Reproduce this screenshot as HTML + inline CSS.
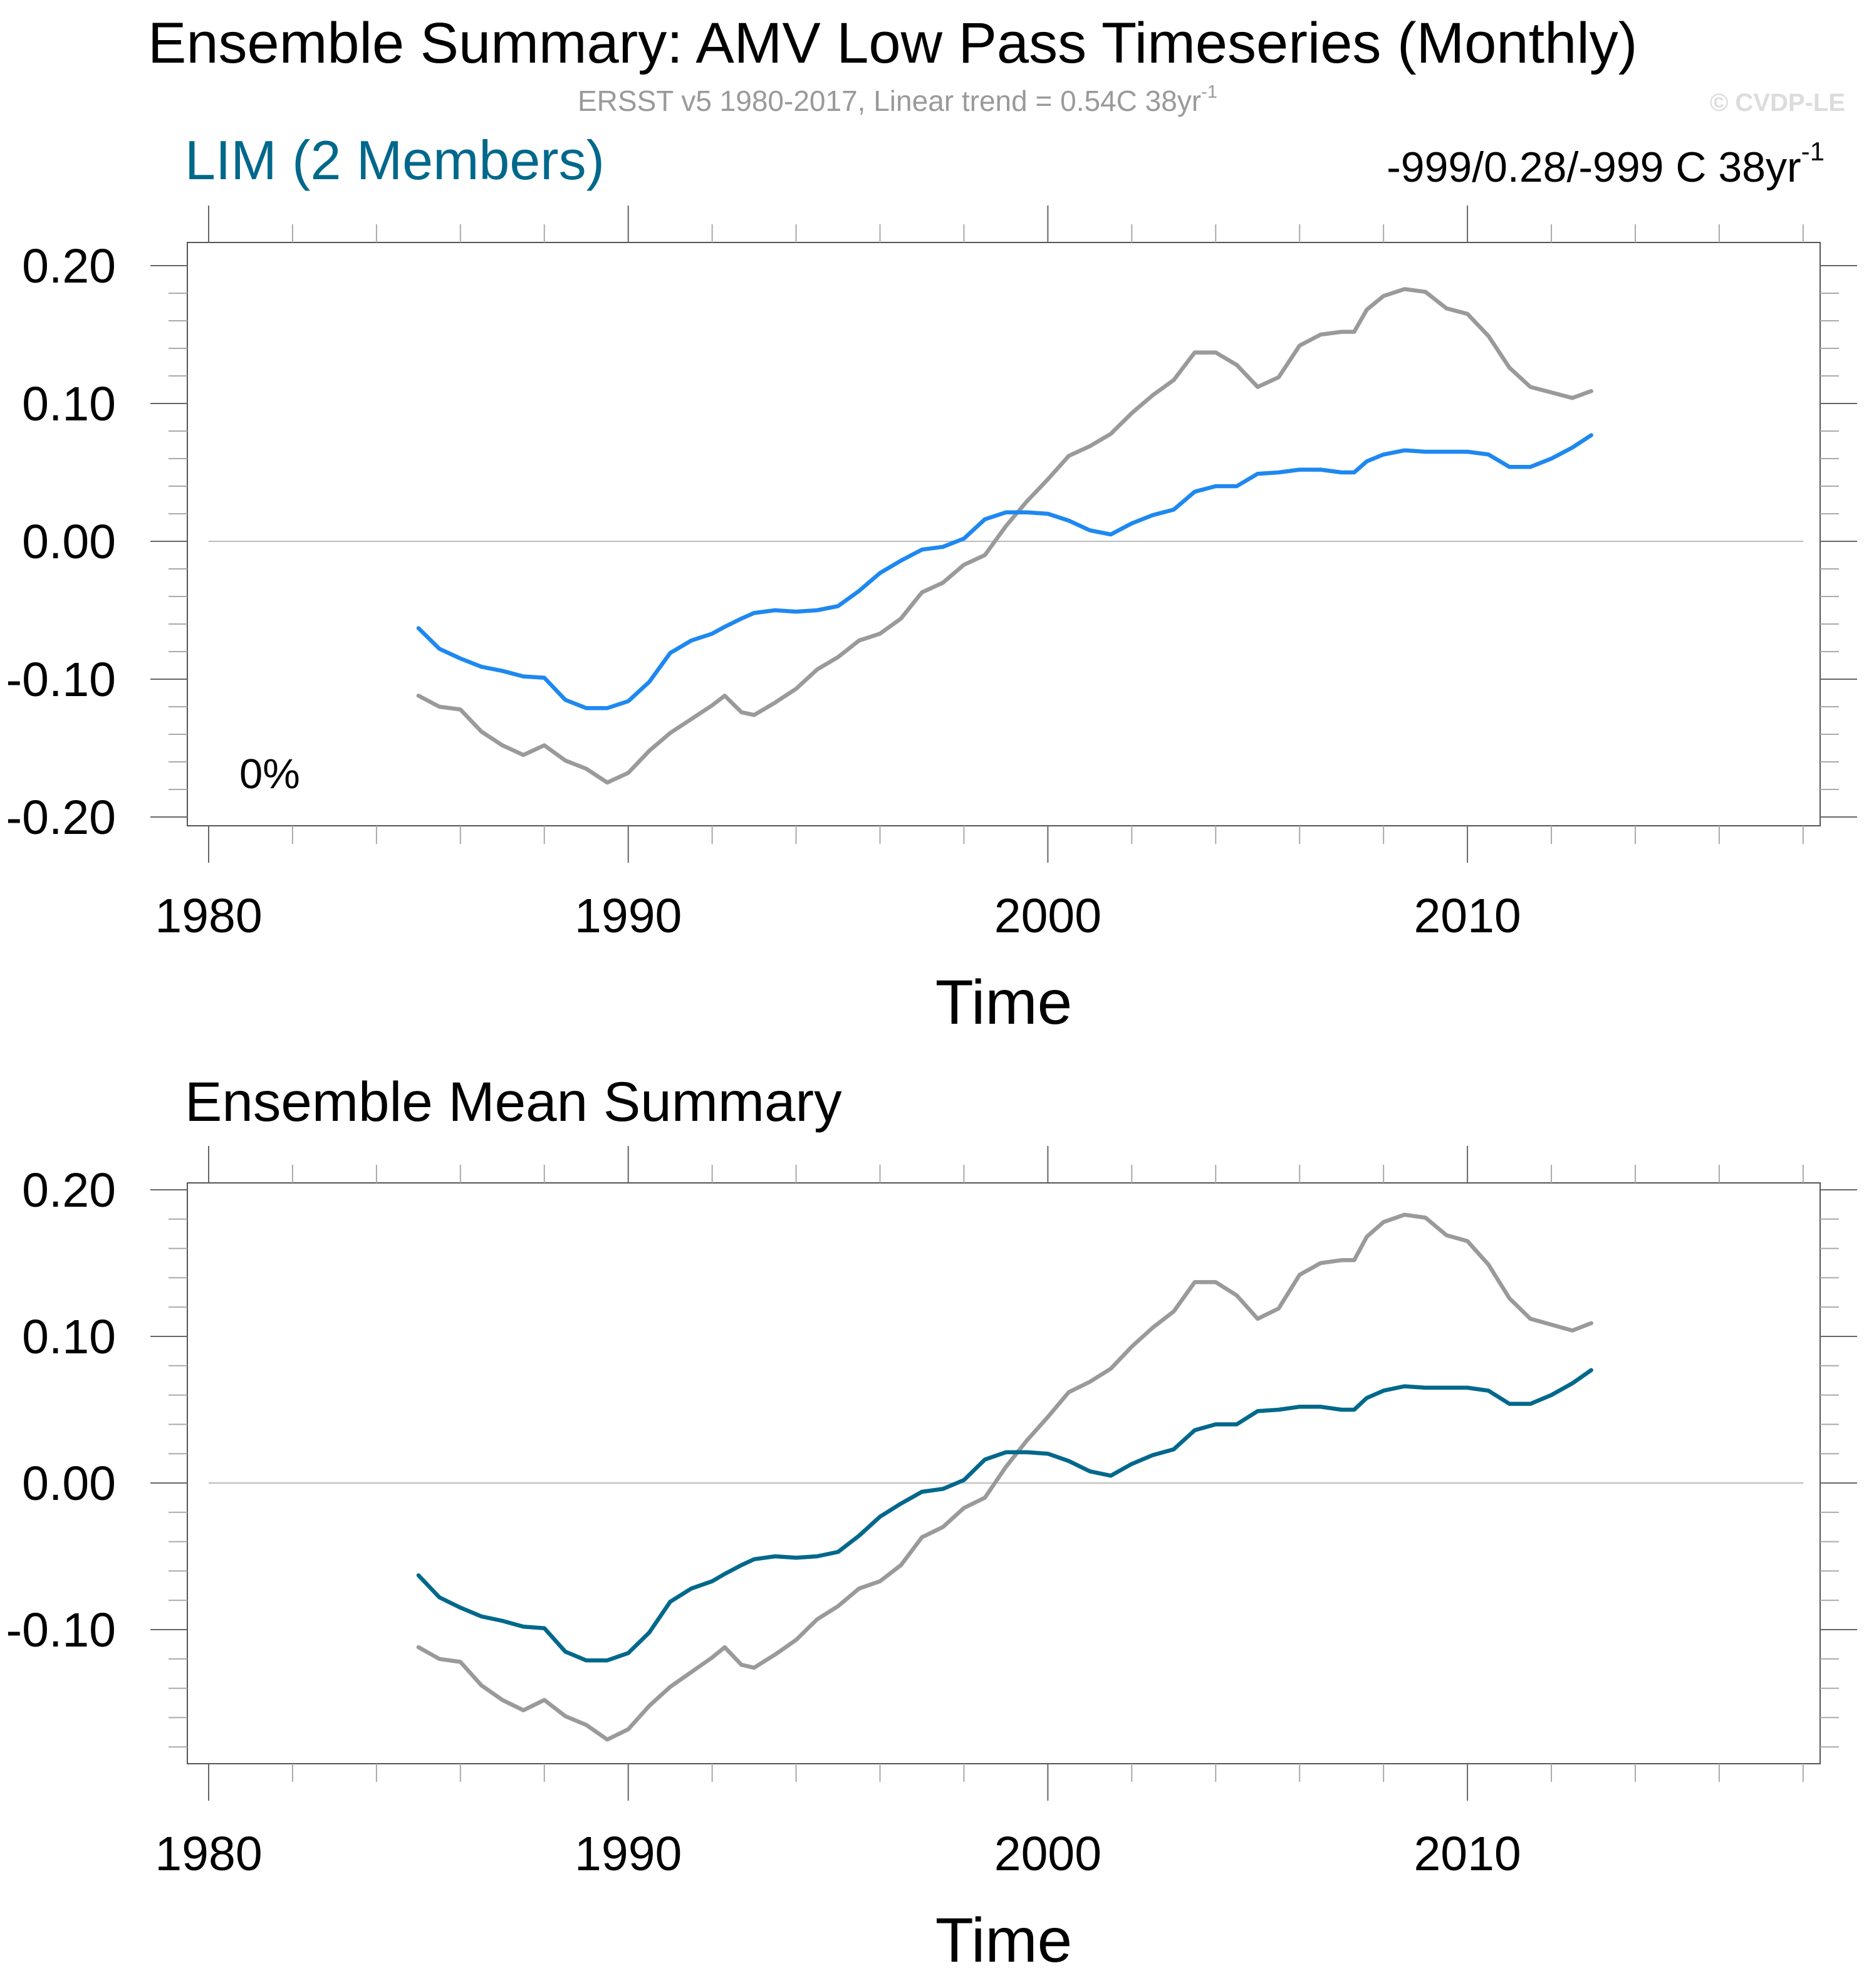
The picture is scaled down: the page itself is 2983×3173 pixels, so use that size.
<!DOCTYPE html>
<html><head><meta charset="utf-8"><style>
html,body{margin:0;padding:0;background:#fff;}
svg{display:block;font-family:"Liberation Sans",Arial,sans-serif;}
</style></head><body>
<svg id="chart" width="2983" height="3173" viewBox="0 0 2983 3173" xmlns="http://www.w3.org/2000/svg">
<rect x="0" y="0" width="2983" height="3173" fill="#fff"/>
<text x="236" y="100" font-size="92" fill="#000">Ensemble Summary: AMV Low Pass Timeseries (Monthly)</text>
<text x="922" y="177" font-size="46" fill="#9a9a9a">ERSST v5 1980-2017, Linear trend = 0.54C 38yr<tspan font-size="29" dy="-21">-1</tspan></text>
<text x="2945" y="177" font-size="40" font-weight="bold" fill="#dcdcdc" text-anchor="end">© CVDP-LE</text>
<text x="295" y="286" font-size="88" fill="#00688b">LIM (2 Members)</text>
<text x="2912" y="290" font-size="68" fill="#000" text-anchor="end">-999/0.28/-999 C 38yr<tspan font-size="42" dy="-34">-1</tspan></text>
<text x="295" y="1789" font-size="89" fill="#000">Ensemble Mean Summary</text>
<g id="p1"></g>
<g id="p2"></g>
</svg>
<script>
const years = [1985.0,1985.5,1986.0,1986.5,1987.0,1987.5,1988.0,1988.5,1989.0,1989.5,1990.0,1990.5,1991.0,1991.5,1992.0,1992.3,1992.7,1993.0,1993.5,1994.0,1994.5,1995.0,1995.5,1996.0,1996.5,1997.0,1997.5,1998.0,1998.5,1999.0,1999.5,2000.0,2000.5,2001.0,2001.5,2002.0,2002.5,2003.0,2003.5,2004.0,2004.5,2005.0,2005.5,2006.0,2006.5,2007.0,2007.3,2007.6,2008.0,2008.5,2009.0,2009.5,2010.0,2010.5,2011.0,2011.5,2012.0,2012.5,2012.95];
const obsValues = [-0.112,-0.12,-0.122,-0.138,-0.148,-0.155,-0.148,-0.159,-0.165,-0.175,-0.168,-0.152,-0.139,-0.129,-0.119,-0.112,-0.124,-0.126,-0.117,-0.107,-0.093,-0.084,-0.072,-0.067,-0.056,-0.037,-0.030,-0.017,-0.010,0.011,0.029,0.045,0.062,0.069,0.078,0.093,0.106,0.117,0.137,0.137,0.128,0.112,0.119,0.142,0.150,0.152,0.152,0.168,0.178,0.183,0.181,0.169,0.165,0.149,0.126,0.112,0.108,0.104,0.109];
const limValues = [-0.063,-0.078,-0.085,-0.091,-0.094,-0.098,-0.099,-0.115,-0.121,-0.121,-0.116,-0.102,-0.081,-0.072,-0.067,-0.062,-0.056,-0.052,-0.050,-0.051,-0.050,-0.047,-0.036,-0.023,-0.014,-0.006,-0.004,0.002,0.016,0.021,0.021,0.020,0.015,0.008,0.005,0.013,0.019,0.023,0.036,0.040,0.040,0.049,0.050,0.052,0.052,0.050,0.050,0.058,0.063,0.066,0.065,0.065,0.065,0.063,0.054,0.054,0.060,0.068,0.077];
const yTickLabels1 = ["0.20","0.10","0.00","-0.10","-0.20"];
const yTickValues1 = [0.2,0.1,0.0,-0.1,-0.2];
const yTickLabels2 = ["0.20","0.10","0.00","-0.10"];
const yTickValues2 = [0.2,0.1,0.0,-0.1];
const xTickLabels = ["1980","1990","2000","2010"];
const xTickValues = [1980,1990,2000,2010];

const NS="http://www.w3.org/2000/svg";
function mk(parent,tag,attrs){const e=document.createElementNS(NS,tag);for(const k in attrs)e.setAttribute(k,attrs[k]);parent.appendChild(e);return e;}

function panel(g,cfg){
  const L=299,R=2905,T=cfg.top,B=cfg.bottom;
  const xs=y=>333+(y-1980)*66.97;
  const ys=v=>cfg.zeroY-v*cfg.perUnit;
  const box=mk(g,'rect',{x:L,y:T,width:R-L,height:B-T,fill:'none',stroke:'#555','stroke-width':2});
  
  
  for(let k=-10;k<=10;k++){
    const v=k*0.02; const y=ys(v);
    if(y<T-1||y>B+1)continue;
    const major=(k%5===0);
    const len=major?59:30;
    const c=major?'#666':'#aaa';
    mk(g,'line',{x1:L-len,y1:y,x2:L,y2:y,stroke:c,'stroke-width':2});
    mk(g,'line',{x1:R,y1:y,x2:R+len,y2:y,stroke:c,'stroke-width':2});
  }
  cfg.yVals.forEach((v,i)=>{
    const t=mk(g,'text',{x:185,y:ys(v)+27,'font-size':77,'text-anchor':'end',fill:'#000'});
    t.textContent=cfg.yLabels[i];
    
    
  });
  for(let yr=1980;yr<=2018;yr+=2){
    const x=xs(yr); const major=(yr%10===0);
    const len=major?59:29; const c=major?'#666':'#aaa';
    mk(g,'line',{x1:x,y1:T-len,x2:x,y2:T,stroke:c,'stroke-width':2});
    mk(g,'line',{x1:x,y1:B,x2:x,y2:B+len,stroke:c,'stroke-width':2});
  }
  xTickValues.forEach((v,i)=>{
    const t=mk(g,'text',{x:xs(v),y:B+170,'font-size':77,'text-anchor':'middle',fill:'#000'});
    t.textContent=xTickLabels[i];
    
    
  });
  const xt=mk(g,'text',{x:(L+R)/2,y:B+316,'font-size':100,'text-anchor':'middle',fill:'#000'});
  xt.textContent='Time';
  
  
  const z=mk(g,'line',{x1:xs(1980),y1:ys(0),x2:xs(2018),y2:ys(0),stroke:'#bbb','stroke-width':2});
  
  
  const pts=a=>a.map((v,i)=>xs(years[i]).toFixed(1)+','+ys(v).toFixed(1)).join(' ');
  const o=mk(g,'polyline',{points:pts(obsValues),fill:'none',stroke:'#9a9a9a','stroke-width':6.5,'stroke-linejoin':'round','stroke-linecap':'round'});
  
  
  const m=mk(g,'polyline',{points:pts(limValues),fill:'none',stroke:cfg.color,'stroke-width':6.5,'stroke-linejoin':'round','stroke-linecap':'round'});
  
  
}
panel(document.getElementById('p1'),{top:387,bottom:1318,zeroY:864,perUnit:2200,yVals:yTickValues1,yLabels:yTickLabels1,color:'#1e88f0'});
panel(document.getElementById('p2'),{top:1888,bottom:2815,zeroY:2367,perUnit:2340,yVals:yTickValues2,yLabels:yTickLabels2,color:'#00688b'});
const pct=document.createElementNS(NS,'text');
pct.setAttribute('x','382');pct.setAttribute('y','1258');pct.setAttribute('font-size','67');
pct.textContent='0%';


document.getElementById('p1').appendChild(pct);
</script>
</body></html>
